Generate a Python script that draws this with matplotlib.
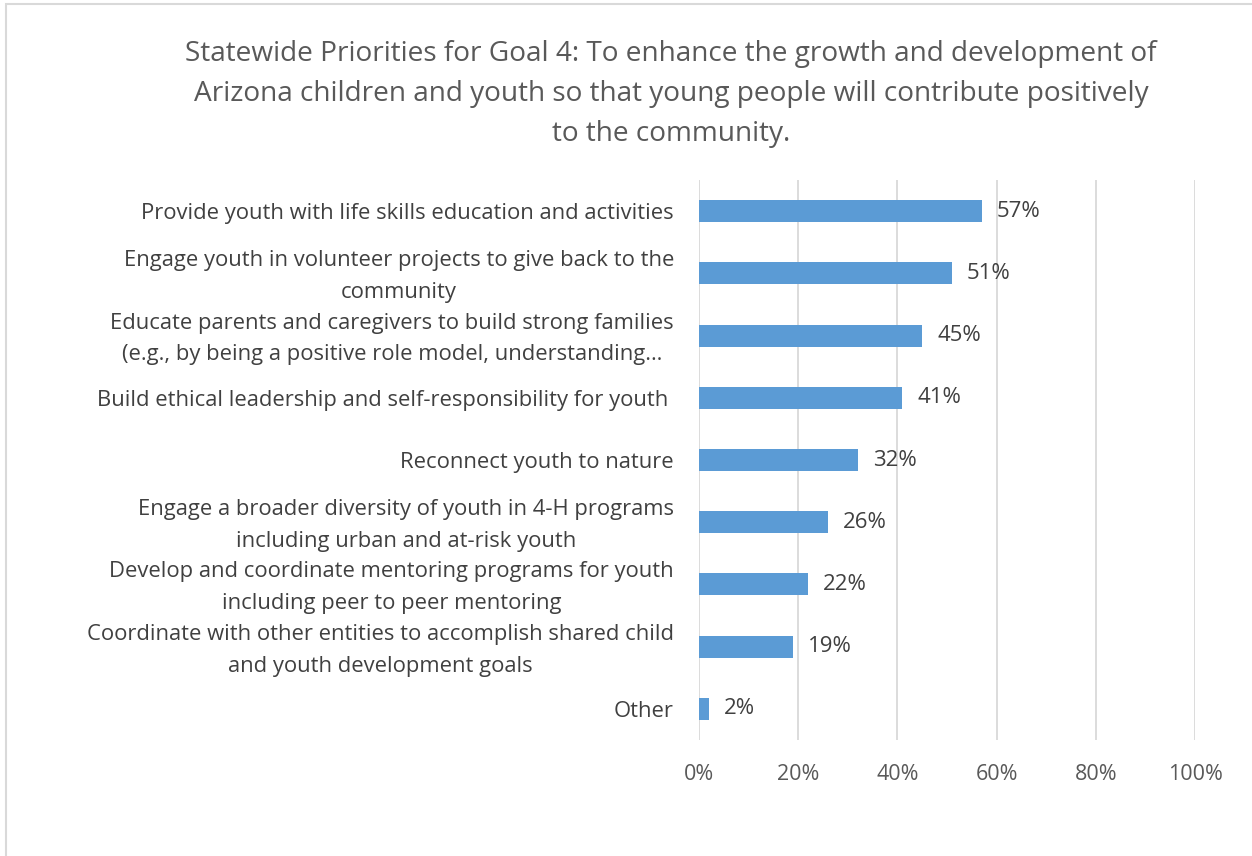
import matplotlib.pyplot as plt
import matplotlib.transforms as mtransforms
from matplotlib.patches import Rectangle
from matplotlib.ticker import FuncFormatter

plt.rcParams['font.family'] = ['Open Sans', 'DejaVu Sans']

title = ("Statewide Priorities for Goal 4: To enhance the growth and development of\n"
         "Arizona children and youth so that young people will contribute positively\n"
         "to the community.")

priorities = [
    "Provide youth with life skills education and activities",
    "Engage youth in volunteer projects to give back to the\ncommunity",
    "Educate parents and caregivers to build strong families\n(e.g., by being a positive role model, understanding\u2026",
    "Build ethical leadership and self-responsibility for youth ",
    "Reconnect youth to nature",
    "Engage a broader diversity of youth in 4-H programs\nincluding urban and at-risk youth",
    "Develop and coordinate mentoring programs for youth\nincluding peer to peer mentoring",
    "Coordinate with other entities to accomplish shared child\nand youth development goals",
    "Other",
]
shares = [0.57, 0.51, 0.45, 0.41, 0.32, 0.26, 0.22, 0.19, 0.02]
x_ticks = [0, 0.2, 0.4, 0.6, 0.8, 1.0]

bar_color = "#5b9bd5"
grid_color = "#d9d9d9"

fig = plt.figure(figsize=(12.52, 8.56), dpi=100)
ax = fig.add_axes([699 / 1252, 1 - 740 / 856, 496 / 1252, 560 / 856])

# chart frame (only the top and left edges fall inside the image)
fig.patches.append(Rectangle((6 / 1252, -0.05), 1.0, 1 - 4 / 856 + 0.05,
                             transform=fig.transFigure, fill=False,
                             edgecolor=grid_color, linewidth=1.5))

pos = list(range(len(shares)))
ax.barh(pos, shares, height=0.355, color=bar_color, zorder=3)
ax.set_ylim(len(shares) - 0.5, -0.5)
ax.set_xlim(0, 1.0)

for y, v in zip(pos, shares):
    ax.annotate(f"{v * 100:.0f}%", (v, y), xytext=(15, 0), textcoords="offset pixels",
                va="center", ha="left", fontsize=16, color="#404040")

ax.set_xticks(x_ticks)
ax.xaxis.set_major_formatter(FuncFormatter(lambda v, _: f"{v * 100:.0f}%"))
ax.tick_params(axis="x", length=0, pad=17, labelsize=15.5, labelcolor="#595959")
ax.tick_params(axis="y", length=0, pad=18)
ax.grid(axis="x", color=grid_color, linewidth=1.3, zorder=0)
for s in ax.spines.values():
    s.set_visible(False)

ax.set_yticks(pos)
ax.set_yticklabels(priorities, fontsize=15.8, color="#404040", linespacing=1.68,
                   multialignment="center")
# two-line labels sit a little low; nudge them up so they centre on the bar
# (done after tick_params, which resets the label transforms)
nudge = mtransforms.ScaledTranslation(0, 4.5 / 100, fig.dpi_scale_trans)
for lbl in ax.get_yticklabels():
    if "\n" in lbl.get_text():
        lbl.set_transform(lbl.get_transform() + nudge)

fig.text(671 / 1252, 1 - 94 / 856, title, ha="center", va="center", fontsize=20.2,
         color="#595959", linespacing=1.58)

fig.savefig("out.png", dpi=100)
